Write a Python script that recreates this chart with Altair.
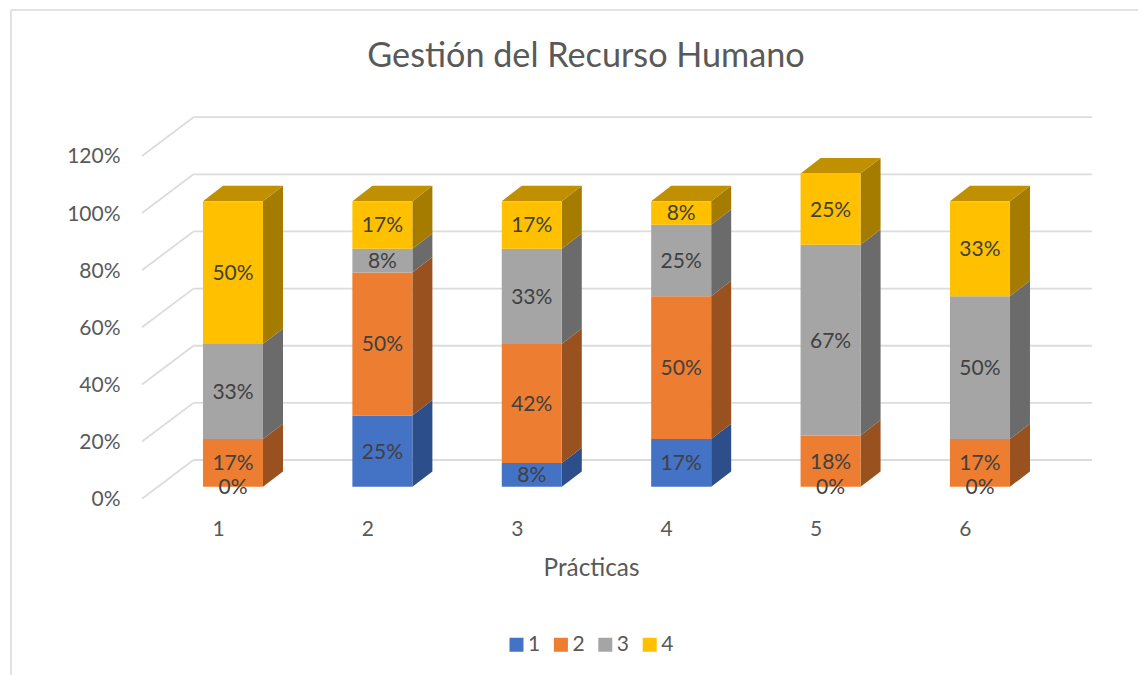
import altair as alt
import pandas as pd

practicas = [1, 2, 3, 4, 5, 6]
serie_1 = [0.0, 0.25, 0.083, 0.167, 0.0, 0.0]
serie_2 = [0.167, 0.50, 0.417, 0.50, 0.18, 0.167]
serie_3 = [0.333, 0.083, 0.333, 0.25, 0.667, 0.50]
serie_4 = [0.50, 0.167, 0.167, 0.083, 0.25, 0.333]
series = ["1", "2", "3", "4"]
front_colors = ["#4472C4", "#ED7D31", "#A5A5A5", "#FFC000"]
side_colors = ["#2C4E8A", "#99511F", "#6B6B6B", "#A67C00"]
top_color = "#C09000"
y_ticks = [0, 0.2, 0.4, 0.6, 0.8, 1.0, 1.2]

X_DOMAIN = [0.391, 6.75]
Y_DOMAIN = [-0.0427, 1.298]
HALF = 0.2008
DX = 0.134
DY = 0.054
BACK = 0.0938
FRONT = -0.0417
XBACK = 0.7356
FONT = "Lato"
GRID = "#DCDCDC"
TEXT = "#595959"

front, side, top = [], [], []
for i, p in enumerate(practicas):
    base = 0.0
    for name, vals in zip(series, [serie_1, serie_2, serie_3, serie_4]):
        v = vals[i]
        hi = base + v
        l, r = p - HALF, p + HALF
        front.append(dict(p=p, serie=name, x=l, x2=r, y=base, y2=hi, mid=(base + hi) / 2, v=v))
        key = f"{p}-{name}"
        side.append(dict(key=key, serie=name, x=r, y=base, y2=hi))
        side.append(dict(key=key, serie=name, x=r + DX, y=base + DY, y2=hi + DY))
        base = hi
    l, r = p - HALF, p + HALF
    for x, lo, up in [(l, base, base), (l + DX, base, base + DY), (r, base, base + DY), (r + DX, base + DY, base + DY)]:
        top.append(dict(key=str(p), x=x, y=lo, y2=up))

grid_back = pd.DataFrame({"t": y_ticks})
grid_back["y"] = grid_back.t + BACK
grid_back["x"] = XBACK
grid_back["x2"] = X_DOMAIN[1]
diag = []
for t in y_ticks:
    diag.append(dict(t=t, x=X_DOMAIN[0], y=t + FRONT))
    diag.append(dict(t=t, x=XBACK, y=t + BACK))

xs = alt.Scale(domain=X_DOMAIN, nice=False, zero=False)
ys = alt.Scale(domain=Y_DOMAIN, nice=False, zero=False)
x_axis = alt.Axis(
    values=practicas, format="d", labelOffset=-15, labelPadding=19, labelFontSize=21,
    labelColor=TEXT, labelFont=FONT, ticks=False, domain=False, grid=False,
    title="Prácticas", titleFontSize=24.3, titleFont=FONT, titleColor=TEXT, titleFontWeight="normal",
    titleX=449, titleY=69, titleAnchor="middle", titleBaseline="middle",
)
y_axis = alt.Axis(
    values=y_ticks, format=".0%", labelOffset=13, labelPadding=22, labelFontSize=21,
    labelColor=TEXT, labelFont=FONT, ticks=False, domain=False, grid=False, title=None,
)
x_enc = alt.X("x:Q", scale=xs, axis=x_axis)
y_enc = alt.Y("y:Q", scale=ys, axis=y_axis)

back_lines = alt.Chart(grid_back).mark_rule(color=GRID, strokeWidth=1.8).encode(
    x=x_enc, x2="x2:Q", y=y_enc)
diag_lines = alt.Chart(pd.DataFrame(diag)).mark_line(color=GRID, strokeWidth=1.8).encode(
    x=x_enc, y=y_enc, detail="t:N")

side_layer = alt.Chart(pd.DataFrame(side)).mark_area(opacity=1).encode(
    x=x_enc, y=y_enc, y2="y2:Q",
    detail="key:N",
    color=alt.Color("serie:N", scale=alt.Scale(domain=series, range=side_colors), legend=None),
)
top_layer = alt.Chart(pd.DataFrame(top)).mark_area(color=top_color, opacity=1).encode(
    x=x_enc, y=y_enc, y2="y2:Q",
    detail="key:N",
)
front_layer = alt.Chart(pd.DataFrame(front)).mark_rect().encode(
    x=x_enc, x2="x2:Q",
    y=y_enc, y2="y2:Q",
    color=alt.Color("serie:N", scale=alt.Scale(domain=series, range=front_colors), legend=alt.Legend(
        title=None, orient="none", direction="horizontal", legendX=364, legendY=518,
        symbolType="square", symbolSize=196, symbolStrokeWidth=0, labelFontSize=21, labelFont=FONT,
        labelColor=TEXT, columnPadding=9.4, labelOffset=1,
    )),
)
labels = alt.Chart(pd.DataFrame(front)).mark_text(
    font=FONT, fontSize=21, color="#404040", baseline="middle", align="center", dy=1.5
).encode(
    x=alt.X("p:Q", scale=xs, axis=x_axis),
    y=alt.Y("mid:Q", scale=ys, axis=y_axis),
    text=alt.Text("v:Q", format=".0%"),
)
border_left = alt.Chart(pd.DataFrame({"a": [0]})).mark_rule(color="#D9D9D9", strokeWidth=1.5).encode(
    x=alt.value(-131), y=alt.value(-106), y2=alt.value(559))
border_top = alt.Chart(pd.DataFrame({"a": [0]})).mark_rule(color="#D9D9D9", strokeWidth=1.5).encode(
    x=alt.value(-131), x2=alt.value(1004), y=alt.value(-106))

chart = alt.layer(
    border_left, border_top, back_lines, diag_lines, side_layer, top_layer, front_layer, labels
).resolve_scale(color="independent").properties(
    width=950, height=383,
    title=alt.TitleParams("Gestión del Recurso Humano", font=FONT, fontSize=34.2, fontWeight="normal",
                          color=TEXT, anchor="middle", frame="group", dx=-31, offset=0, dy=65),
    autosize=alt.AutoSizeParams(type="none"),
    padding={"left": 134, "top": 108, "right": 46, "bottom": 176},
).configure_view(stroke=None)

chart.save("out.html", embed_options={"renderer": "svg", "actions": False})
